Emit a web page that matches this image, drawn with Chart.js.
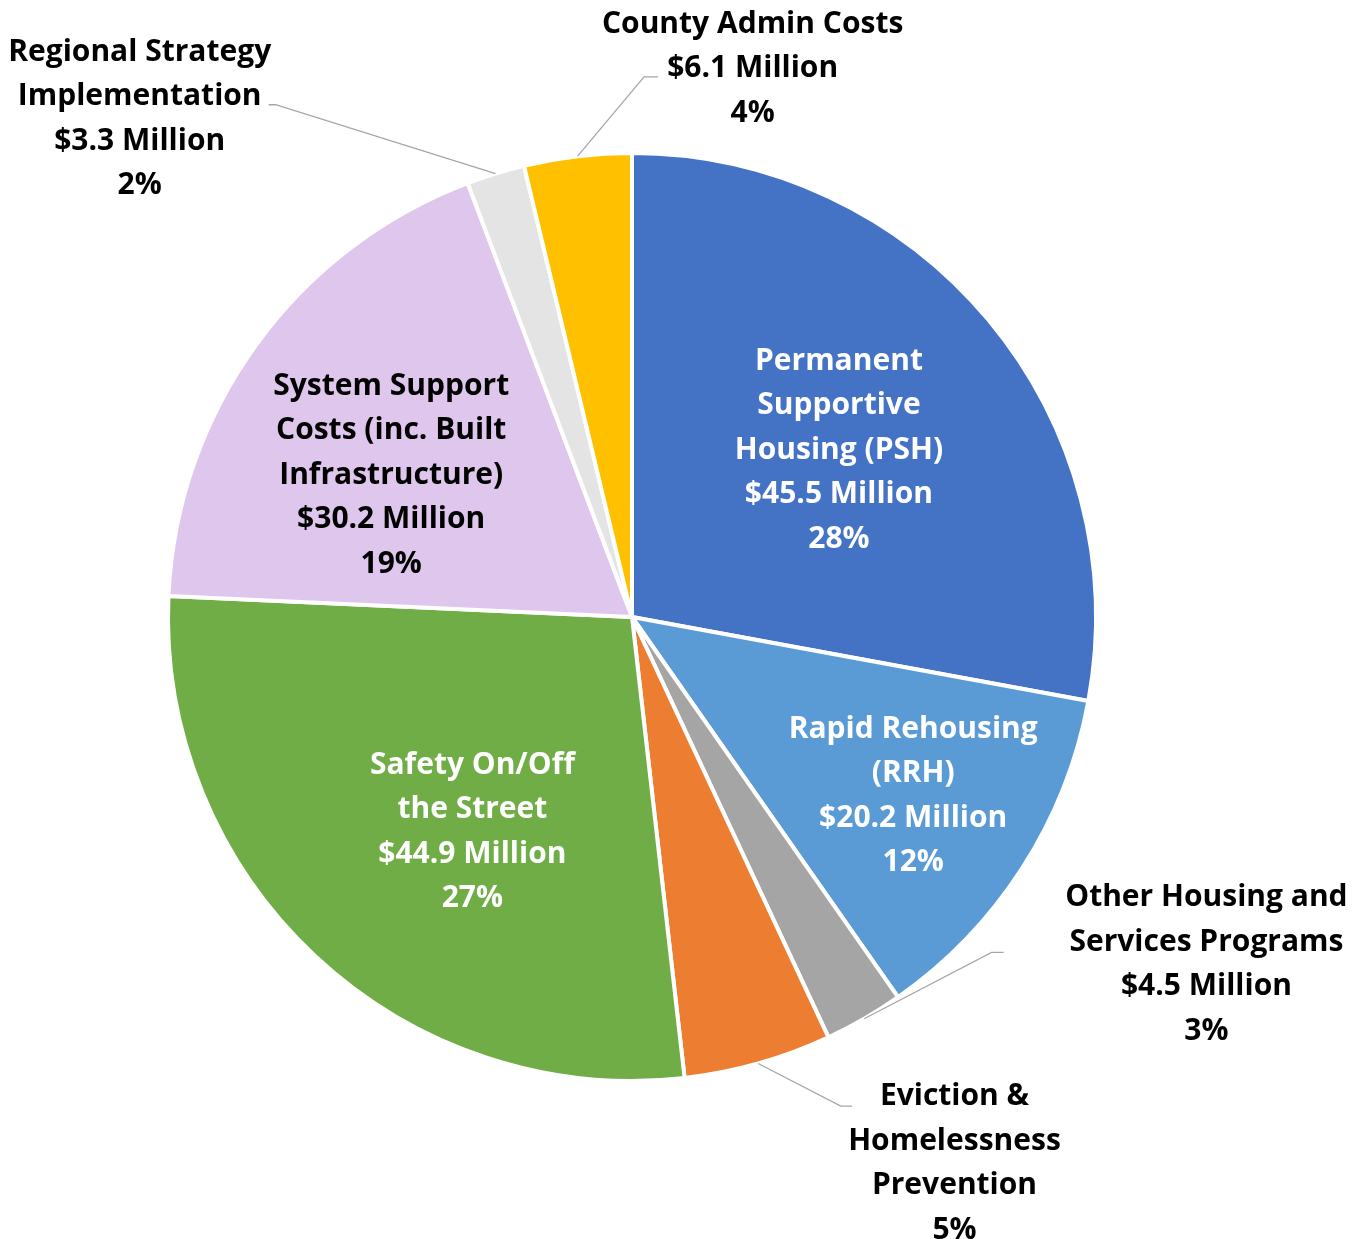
<!DOCTYPE html>
<html>
<head>
<meta charset="utf-8">
<script src="https://cdn.jsdelivr.net/npm/chart.js@4.4.0/dist/chart.umd.min.js"></script>
<style>
  html, body { margin: 0; padding: 0; background: #fff; }
  #wrap { width: 1361px; height: 1239px; }
</style>
</head>
<body>
<div id="wrap"><canvas id="pie"></canvas></div>
<script>
// budget categories, clockwise from 12 o'clock
const categories = [
  "Permanent\nSupportive\nHousing (PSH)",
  "Rapid Rehousing\n(RRH)",
  "Other Housing and\nServices Programs",
  "Eviction &\nHomelessness\nPrevention",
  "Safety On/Off\nthe Street",
  "System Support\nCosts (inc. Built\nInfrastructure)",
  "Regional Strategy\nImplementation",
  "County Admin Costs"
];
const amounts = [45.5, 20.2, 4.5, 8.4, 44.9, 30.2, 3.3, 6.1];   // $ million
const percents = [28, 12, 3, 5, 27, 19, 2, 4];
const showAmount = [true, true, true, false, true, true, true, true];
const colors = ["#4472C4", "#5B9BD5", "#A5A5A5", "#ED7D31", "#70AD47", "#DEC6EC", "#E4E4E4", "#FFC000"];

// label layout, in units of the pie radius from its centre
let labelPos = [
  { at: [0.446, -0.368], color: "#fff" },
  { at: [0.606, 0.377], color: "#fff" },
  { at: [1.238, 0.740], color: "#000", elbow: [0.775, 0.723], end: [0.801, 0.723] },
  { at: [0.695, 1.169], color: "#000", elbow: [0.450, 1.054], end: [0.474, 1.054] },
  { at: [-0.344, 0.455], color: "#fff" },
  { at: [-0.519, -0.314], color: "#000" },
  { at: [-1.061, -1.082], color: "#000", elbow: [-0.768, -1.104], end: [-0.783, -1.104] },
  { at: [0.260, -1.190], color: "#000", elbow: [0.026, -1.164], end: [0.056, -1.164] }
];

let pieLabels = {
  id: "pieLabels",
  afterDatasetsDraw(chart) {
    let ctx = chart.ctx;
    let arcs = chart.getDatasetMeta(0).data;
    ctx.save();
    arcs.forEach((arc, i) => {
      let cx = arc.x, cy = arc.y, r = arc.outerRadius;
      let lay = labelPos[i];
      if (lay.elbow) {
        let mid = (arc.startAngle + arc.endAngle) / 2;
        ctx.beginPath();
        ctx.strokeStyle = "#A6A6A6";
        ctx.lineWidth = 1.3;
        ctx.moveTo(cx + Math.cos(mid) * r, cy + Math.sin(mid) * r);
        ctx.lineTo(cx + lay.elbow[0] * r, cy + lay.elbow[1] * r);
        ctx.lineTo(cx + lay.end[0] * r, cy + lay.end[1] * r);
        ctx.stroke();
      }
      let lines = categories[i].split("\n");
      if (showAmount[i]) lines.push("$" + amounts[i].toFixed(1) + " Million");
      lines.push(percents[i] + "%");
      let lh = 44.5;
      let x = cx + lay.at[0] * r;
      // open sans sits a little high with middle baseline
      let y = cy + lay.at[1] * r - (lines.length - 1) * lh / 2 + 4;
      ctx.font = "bold 30px 'Open Sans'";
      ctx.fillStyle = lay.color;
      ctx.textAlign = "center";
      ctx.textBaseline = "middle";
      lines.forEach((t, k) => ctx.fillText(t, x, y + k * lh));
    });
    ctx.restore();
  }
};

new Chart(document.getElementById("pie"), {
  type: "pie",
  data: {
    labels: categories,
    datasets: [{
      data: amounts,
      backgroundColor: colors,
      borderColor: "#fff",
      borderWidth: 4
    }]
  },
  options: {
    responsive: true,
    maintainAspectRatio: false,
    animation: false,
    layout: { padding: { left: 166, right: 263, top: 151, bottom: 156 } },
    plugins: {
      legend: { display: false },
      tooltip: { enabled: false }
    }
  },
  plugins: [pieLabels]
});
</script>
</body>
</html>
